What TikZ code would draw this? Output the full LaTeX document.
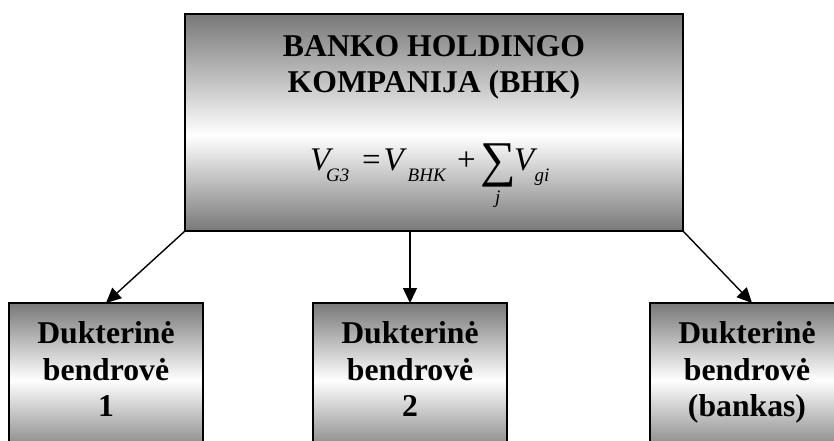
\documentclass[tikz,border=0pt]{standalone}
\usepackage{fontspec}
\setmainfont{Liberation Serif}
\usepackage{graphicx}
\usetikzlibrary{arrows.meta}
\definecolor{shd}{gray}{0.47}
\pgfdeclareverticalshading{topsh}{100bp}{color(0bp)=(shd); color(25bp)=(shd); color(47bp)=(white); color(75bp)=(shd); color(100bp)=(shd)}
\pgfdeclareverticalshading{subsh}{100bp}{color(0bp)=(shd); color(25bp)=(shd); color(50bp)=(white); color(75bp)=(shd); color(100bp)=(shd)}
\newcommand\fpart[3]{\makebox[0pt][l]{\hspace*{#1}\raisebox{#2}{#3}}}
\newcommand\fbig{\fontsize{33}{40}\selectfont}
\newcommand\fsml{\fontsize{19}{23}\selectfont\itshape}
\tikzset{
  topbox/.style={draw=black, line width=1.3pt, shading=topsh, minimum width=498pt, minimum height=217pt, inner sep=0pt, outer sep=0pt},
  subbox/.style={draw=black, line width=1.3pt, shading=subsh, minimum width=194pt, minimum height=154pt, inner sep=0pt, outer sep=0pt},
  lbl/.style={font=\fontsize{31.7}{36.5}\selectfont\bfseries, inner sep=0pt, anchor=base},
  conn/.style={line width=1.4pt, -{Triangle[length=15pt,width=14pt]}}
}
\begin{document}
\begin{tikzpicture}[x=1pt,y=1pt]
\useasboundingbox (0,0) rectangle (834,-440);
\clip (0,0) rectangle (834,-440);
\node[topbox] (bhk) at (434,-122.5) {};
\node[subbox] (d1) at (106,-380) {};
\node[subbox] (d2) at (410,-380) {};
\node[subbox] (d3) at (747,-380) {};
% top texts
\node[lbl] (t1) at (434,-56) {BANKO HOLDINGO};
\node[lbl] (t2) at (434,-92.7) {KOMPANIJA (BHK)};
\node[inner sep=0pt, anchor=base west] (f) at (310,-170) {%
  \fpart{0pt}{0pt}{\fbig\itshape V}%
  \fpart{16pt}{-11.7pt}{\fsml G3}%
  \fpart{52pt}{0pt}{\fbig =}%
  \fpart{73.5pt}{0pt}{\fbig\itshape V}%
  \fpart{97.5pt}{-11.7pt}{\fsml BHK}%
  \fpart{147pt}{0pt}{\fbig +}%
  \fpart{170pt}{-6pt}{\fontsize{50}{54}\selectfont ∑}%
  \fpart{185pt}{-33pt}{\fsml j}%
  \fpart{204pt}{0pt}{\fbig\itshape V}%
  \fpart{224.5pt}{-11.7pt}{\fsml gi}%
  \hspace*{246pt}};
% sub texts
\node[lbl] (a1) at (106,-343) {Dukterinė};
\node[lbl] (a2) at (106,-380) {bendrovė};
\node[lbl] (a3) at (106,-416.7) {1};
\node[lbl] (b1) at (410,-343) {Dukterinė};
\node[lbl] (b2) at (410,-380) {bendrovė};
\node[lbl] (b3) at (410,-416.7) {2};
\node[lbl] (c1) at (747,-343) {Dukterinė};
\node[lbl] (c2) at (747,-380) {bendrovė};
\node[lbl] (c3) at (747,-416.7) {(bankas)};
% connectors
\draw[conn] (bhk.south west) -- (d1.north);
\draw[conn] (bhk.south -| d2.north) -- (d2.north);
\draw[conn] (bhk.south east) -- ([xshift=5pt]d3.north);
\end{tikzpicture}
\end{document}
